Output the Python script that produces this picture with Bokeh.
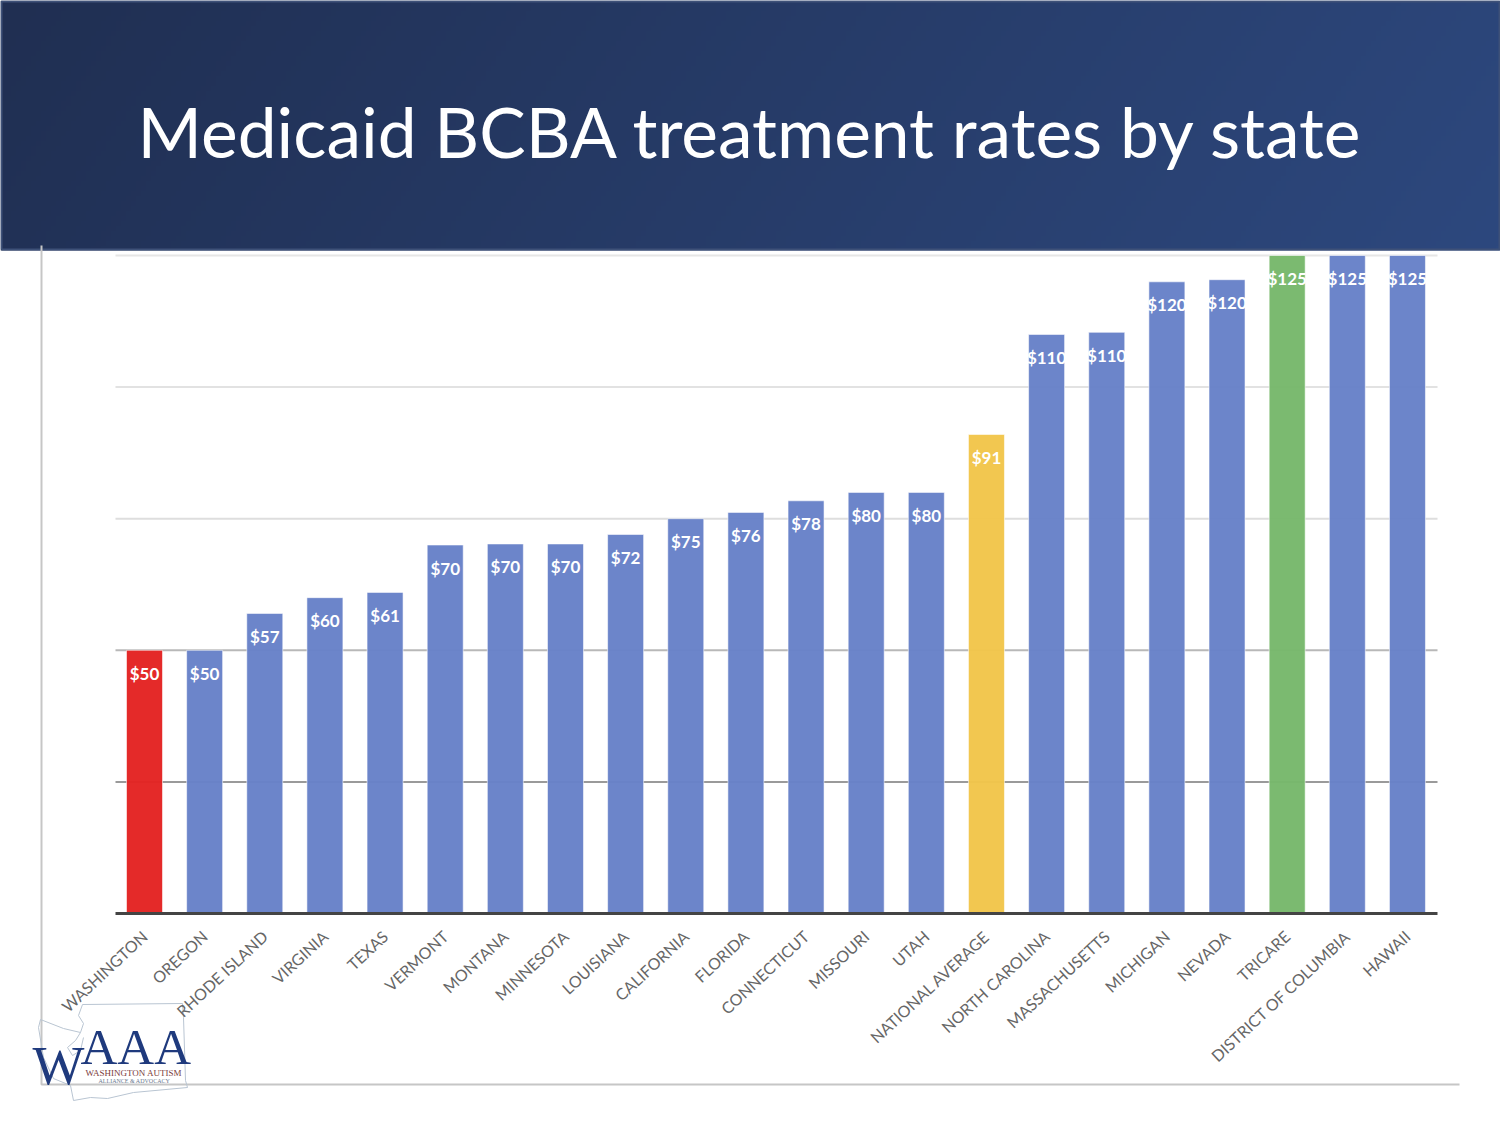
import numpy as np
from bokeh.core.properties import value
from bokeh.embed import file_html
from bokeh.models import ColumnDataSource, FixedTicker, Range1d
from bokeh.plotting import figure
from bokeh.resources import INLINE

title = "Medicaid BCBA treatment rates by state"
states = ["WASHINGTON", "OREGON", "RHODE ISLAND", "VIRGINIA", "TEXAS", "VERMONT", "MONTANA",
          "MINNESOTA", "LOUISIANA", "CALIFORNIA", "FLORIDA", "CONNECTICUT", "MISSOURI", "UTAH",
          "NATIONAL AVERAGE", "NORTH CAROLINA", "MASSACHUSETTS", "MICHIGAN", "NEVADA", "TRICARE",
          "DISTRICT OF COLUMBIA", "HAWAII"]
rates = [50, 50, 57, 60, 61, 70, 70.2, 70.2, 72, 75, 76.2, 78.4, 80, 80, 91, 110, 110.4, 120, 120.4, 125, 125, 125]
rate_labels = ["$50", "$50", "$57", "$60", "$61", "$70", "$70", "$70", "$72", "$75", "$76", "$78", "$80",
               "$80", "$91", "$110", "$110", "$120", "$120", "$125", "$125", "$125"]
BLUE, RED, YELLOW, GREEN = "#6781c8", "#e32322", "#f2c54a", "#77b86b"
bar_colors = [RED] + [BLUE] * 13 + [YELLOW] + [BLUE] * 4 + [GREEN] + [BLUE] * 2
grid_values = [25, 50, 75, 100, 125]
grid_colors = ["#9a9a9a", "#b8b8b8", "#dedede", "#e2e2e2", "#e6e6e6"]

W, H = 1500, 1125
CAT_PX, CAT0 = 60.14, 144.0
BASE, TOP = 913.0, 255.0
UNIT = (BASE - TOP) / 125.0

p = figure(width=W, height=H, toolbar_location=None, output_backend="svg", min_border=0,
           x_range=Range1d((0 - CAT0) / CAT_PX, (W - CAT0) / CAT_PX),
           y_range=Range1d((BASE - H) / UNIT, BASE / UNIT),
           y_axis_location=None, outline_line_color=None)
# overlay range in page pixels, for the slide decoration
p.extra_x_ranges["page"] = Range1d(0, W)
p.extra_y_ranges["page"] = Range1d(-H, 0)
PG = dict(x_range_name="page", y_range_name="page")
def Y(v):
    return -v

p.xgrid.visible = False
p.ygrid.visible = False
bounds = ((115 - CAT0) / CAT_PX, (1437 - CAT0) / CAT_PX)
p.segment(x0=[bounds[0]] * 5, x1=[bounds[1]] * 5, y0=grid_values, y1=grid_values,
          line_color=grid_colors, line_width=2)

# header band
gh, gw = 50, 300
gy, gx = np.mgrid[0:gh, 0:gw]
t = np.clip((gx / (gw - 1)) * 0.9 + (1 - gy / (gh - 1)) * 0.1, 0, 1)
c0, c1 = np.array([32, 47, 82]), np.array([45, 72, 126])
img = np.empty((gh, gw), dtype=np.uint32)
view = img.view(dtype=np.uint8).reshape((gh, gw, 4))
for k in range(3):
    view[:, :, k] = (c0[k] + (c1[k] - c0[k]) * t).astype(np.uint8)
view[:, :, 3] = 255
p.image_rgba(image=[img], x=0, y=Y(250), dw=W, dh=250, **PG)
p.line(x=[1, 1, W - 1, W - 1, 1], y=[Y(249), Y(1), Y(1), Y(249), Y(249)], line_color="#3e5178", line_width=2, **PG)
p.text(x=[137], y=[Y(130)], text=[title], text_color="#ffffff", text_font=value("Lato"),
       text_font_size="69.5px", text_baseline="middle", **PG)

# outer frame lines
p.line(x=[41, 41, 1459], y=[Y(245), Y(1084), Y(1084)], line_color="#c6c6c6", line_width=2, **PG)

# bars
src = ColumnDataSource(dict(x=list(range(len(states))), top=rates, color=bar_colors, label=rate_labels))
p.vbar(x="x", top="top", bottom=0, width=36 / CAT_PX, fill_color="color", fill_alpha=0.97,
       line_color="#ffffff", line_alpha=0.55, line_width=1, source=src)
p.text(x="x", y="top", text="label", y_offset=23, text_color="#ffffff", text_font=value("Lato"),
       text_font_style="bold", text_font_size="17px", text_align="center", text_baseline="middle", source=src)

# category axis
ax = p.xaxis[0]
ax.fixed_location = 0
ax.bounds = bounds
ax.ticker = FixedTicker(ticks=list(range(len(states))))
ax.major_label_overrides = {i: s for i, s in enumerate(states)}
ax.major_label_orientation = np.radians(43)
ax.major_label_text_font = "Lato"
ax.major_label_text_font_size = "16px"
ax.major_label_text_color = "#666666"
ax.major_label_standoff = 14
ax.axis_line_color = "#444444"
ax.axis_line_width = 3
ax.major_tick_line_color = None
ax.minor_tick_line_color = None

# logo
ox = [82, 182, 183, 185, 187, 133, 107, 90, 73, 70, 53, 43, 38, 40, 63, 80, 83, 78, 82]
oy = [1004, 1003, 1017, 1080, 1087, 1092, 1098, 1097, 1100, 1085, 1078, 1057, 1027, 1019, 1028, 1032, 1023, 1015, 1004]
p.line(x=ox, y=[Y(v) for v in oy], line_color="#b9c5d2", line_width=1, **PG)
sx = [80, 75, 67, 72, 80, 83]
sy = [1032, 1040, 1047, 1055, 1050, 1037]
p.line(x=sx, y=[Y(v) for v in sy], line_color="#b9c5d2", line_width=1, **PG)
logo_font = value("Liberation Serif")
p.text(x=[32], y=[Y(1065)], text=["W"], text_font=logo_font, text_font_size="55px", text_color="#1f3a7d",
       text_baseline="middle", **PG)
p.text(x=[80], y=[Y(1046)], text=["AAA"], text_font=logo_font, text_font_size="51px", text_color="#1f3a7d",
       text_baseline="middle", **PG)
p.text(x=[85], y=[Y(1072)], text=["WASHINGTON AUTISM"], text_font=logo_font, text_font_size="9px",
       text_color="#7a3b3b", text_baseline="middle", **PG)
p.text(x=[98], y=[Y(1080)], text=["ALLIANCE & ADVOCACY"], text_font=logo_font, text_font_size="6px",
       text_color="#6b7a90", text_baseline="middle", **PG)

open("out.html", "w").write(file_html(p, INLINE))
